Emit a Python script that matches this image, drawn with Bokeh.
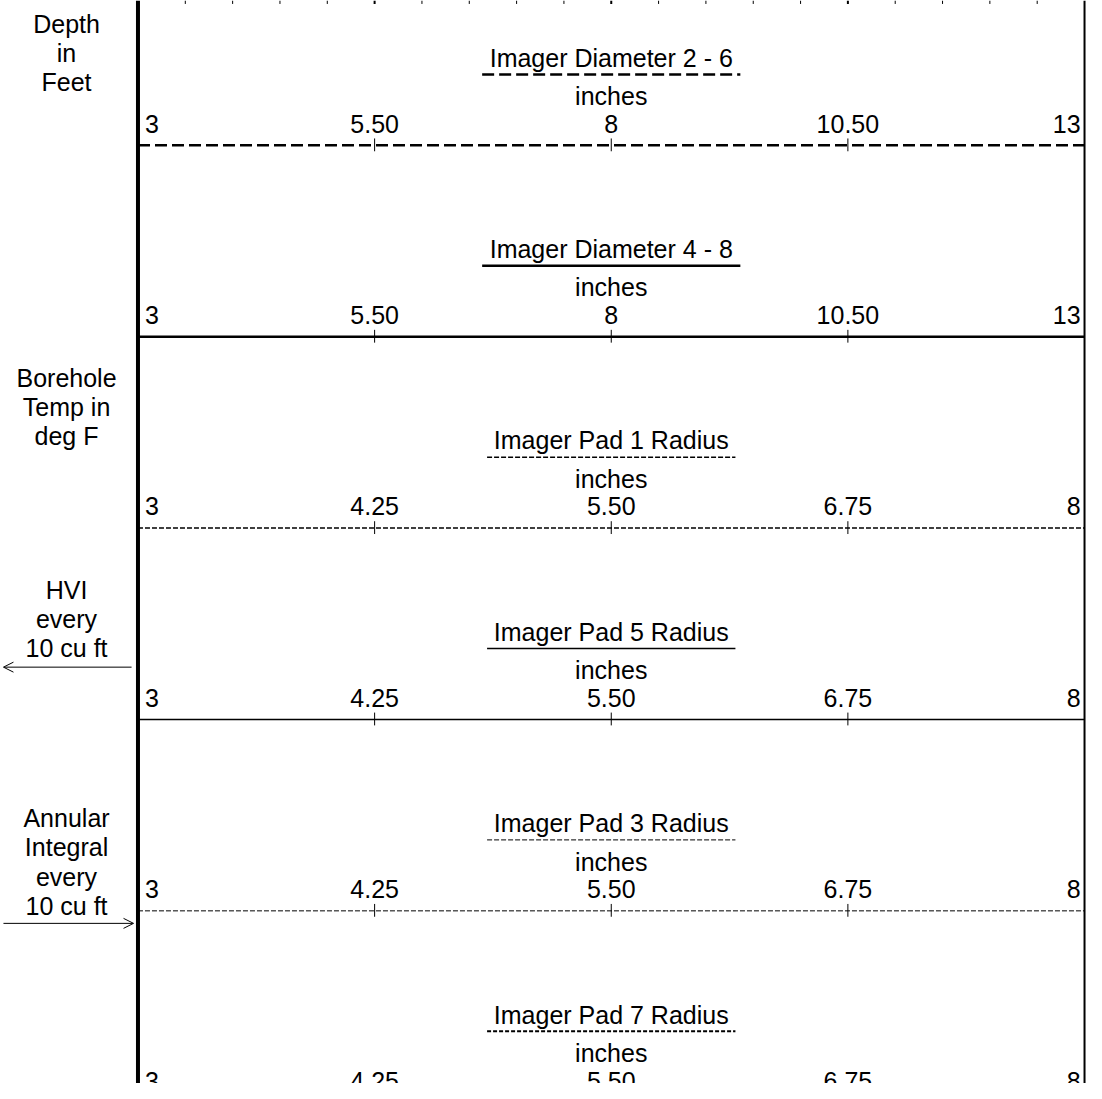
from bokeh.plotting import figure
from bokeh.models import Range1d, Arrow, OpenHead
from bokeh.core.properties import value
from bokeh.embed import file_html
from bokeh.resources import INLINE

# ---------------- data ----------------
curve_titles = ["Imager Diameter 2 - 6", "Imager Diameter 4 - 8",
                "Imager Pad 1 Radius", "Imager Pad 5 Radius",
                "Imager Pad 3 Radius", "Imager Pad 7 Radius"]
curve_units = ["inches", "inches", "inches", "inches", "inches", "inches"]
curve_left = [3, 3, 3, 3, 3, 3]
curve_right = [13, 13, 8, 8, 8, 8]
diam_tick_values = [3, 5.5, 8, 10.5, 13]
diam_tick_labels = ["3", "5.50", "8", "10.50", "13"]
pad_tick_values = [3, 4.25, 5.5, 6.75, 8]
pad_tick_labels = ["3", "4.25", "5.50", "6.75", "8"]
curve_ticks = [diam_tick_values, diam_tick_values] + [pad_tick_values] * 4
curve_tick_labels = [diam_tick_labels, diam_tick_labels] + [pad_tick_labels] * 4

depth_label = ["Depth", "in", "Feet"]
temp_label = ["Borehole", "Temp in", "deg F"]
hvi_label = ["HVI", "every", "10 cu ft"]
annular_label = ["Annular", "Integral", "every", "10 cu ft"]
grid_divisions = 20

# ---------------- styles / layout ----------------
curve_styles = [
    dict(line_width=2.5, line_dash="12 5"),
    dict(line_width=2.5, line_dash="solid"),
    dict(line_width=1.5, line_dash="5 2"),
    dict(line_width=1.5, line_dash="solid"),
    dict(line_width=1.0, line_dash="5 2"),
    dict(line_width=2.0, line_dash="4 2"),
]
underline_half = [131, 131, 126, 126, 126, 126]

W, H = 1086, 1083
X0, X1 = 0, 1102
Y0, Y1 = 0, 1099
TRACK_L, TRACK_R = 139.5, 1100
ROW0, ROW_STEP = 147, 194.2
FONT = value("Liberation Sans")
FS = "25px"
LEFT_CX = 67
LINE_H = 29.5
TDY = -9  # baseline compensation for the svg text renderer

p = figure(width=W, height=H, x_range=Range1d(X0, X1), y_range=Range1d(Y1, Y0),
           x_axis_type=None, y_axis_type=None, output_backend="svg",
           toolbar_location=None, min_border=0)
p.outline_line_color = None
p.background_fill_color = "white"
p.border_fill_color = "white"


def add_range(name, lo, hi):
    k = (hi - lo) / (TRACK_R - TRACK_L)
    p.extra_x_ranges[name] = Range1d(lo - (TRACK_L - X0) * k, hi + (X1 - TRACK_R) * k)


def txt(**kw):
    kw.setdefault("text_font", FONT)
    kw.setdefault("text_font_size", FS)
    kw.setdefault("text_color", "black")
    kw.setdefault("text_baseline", "alphabetic")
    kw["y"] = [y + TDY for y in kw["y"]]
    p.text(**kw)


# track fraction range for the top grid ticks
add_range("grid", 0, grid_divisions)
gx = list(range(1, grid_divisions))
minor = [g for g in gx if g % 5 != 0]
major = [g for g in gx if g % 5 == 0]
p.segment(x0=minor, y0=[0] * len(minor), x1=minor, y1=[3.5] * len(minor),
          x_range_name="grid", line_color="black", line_width=1)
p.segment(x0=major, y0=[0] * len(major), x1=major, y1=[3.5] * len(major),
          x_range_name="grid", line_color="black", line_width=2)

# track borders
p.segment(x0=[0], y0=[Y0], x1=[0], y1=[Y1], x_range_name="grid", line_color="black", line_width=4)
p.segment(x0=[grid_divisions], y0=[Y0], x1=[grid_divisions], y1=[Y1], x_range_name="grid",
          line_color="black", line_width=2)

xmid_px = (TRACK_L + TRACK_R) / 2
for i, title in enumerate(curve_titles):
    name = f"c{i}"
    lo, hi = curve_left[i], curve_right[i]
    add_range(name, lo, hi)
    L = ROW0 + ROW_STEP * i
    mid = (lo + hi) / 2
    st = curve_styles[i]
    # scale line
    p.segment(x0=[lo], y0=[L], x1=[hi], y1=[L], x_range_name=name, line_color="black", **st)
    # ticks
    tv = curve_ticks[i][1:-1]
    p.segment(x0=tv, y0=[L - 7] * len(tv), x1=tv, y1=[L + 6] * len(tv),
              x_range_name=name, line_color="black", line_width=1)
    # title, underline, units
    txt(x=[mid], y=[L - 80], text=[title], x_range_name=name, text_align="center")
    p.segment(x0=[xmid_px - underline_half[i]], y0=[L - 72], x1=[xmid_px + underline_half[i]],
              y1=[L - 72], line_color="black", **st)
    txt(x=[mid], y=[L - 41], text=[curve_units[i]], x_range_name=name, text_align="center")
    # scale labels
    vals, labs = curve_ticks[i], curve_tick_labels[i]
    txt(x=[vals[0]], y=[L - 13], text=[labs[0]], x_range_name=name, x_offset=7,
        text_align="left")
    txt(x=vals[1:-1], y=[L - 13] * 3, text=labs[1:-1], x_range_name=name,
        text_align="center")
    txt(x=[vals[-1]], y=[L - 13], text=[labs[-1]], x_range_name=name, x_offset=-4,
        text_align="right")

# left-track annotations
for lines, first in [(depth_label, 33), (temp_label, 392), (hvi_label, 607), (annular_label, 839)]:
    ys = [first + LINE_H * j for j in range(len(lines))]
    txt(x=[LEFT_CX] * len(lines), y=ys, text=lines, text_align="center")

p.add_layout(Arrow(end=OpenHead(size=10, line_width=1, line_color="black"),
                   x_start=133, y_start=676.5, x_end=3, y_end=676.5,
                   line_width=1, line_color="black"))
p.add_layout(Arrow(end=OpenHead(size=10, line_width=1, line_color="black"),
                   x_start=3, y_start=936.5, x_end=135, y_end=936.5,
                   line_width=1, line_color="black"))

open("out.html", "w").write(file_html(p, INLINE))
